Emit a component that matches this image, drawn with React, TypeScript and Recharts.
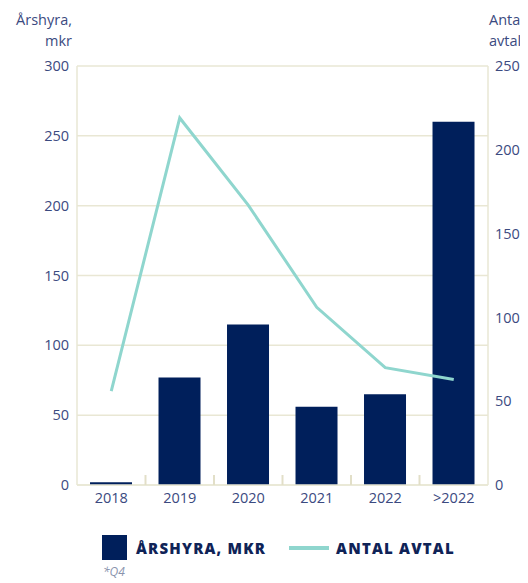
import React from "react"
import { ComposedChart, Bar, Line, XAxis, YAxis, CartesianGrid } from "recharts"

const categories = ["2018", "2019", "2020", "2021", "2022", ">2022"]
const arshyra = [2, 77, 115, 56, 65, 260]
const antalAvtal = [56, 219, 167, 106, 70, 63]
const leftTicks = [0, 50, 100, 150, 200, 250, 300]
const rightTicks = [0, 50, 100, 150, 200, 250]

const NAVY = "#001f5b"
const TEAL = "#8fd6ce"
const GRID = "#e9e7d4"
const TICK = "#e2dfc8"
const TEXT = "#3b4a80"
const FONT = "'Open Sans', Lato, sans-serif"
const TICK_MARGIN = 8
const CHART_W = 520
const LEFT_W = 69
const RIGHT_W = 40
const PLOT_W = CHART_W - LEFT_W - RIGHT_W

// category label plus a short tick at the left edge of the band
function renderYearTick(props: any) {
  const { x, y, payload } = props
  const idx = categories.indexOf(String(payload.value))
  const half = PLOT_W / categories.length / 2
  const axisY = Number(y) - TICK_MARGIN
  const bx = Number(x) - half
  return (
    <g>
      {idx > 0 ? (
        <path d={`M${bx},${axisY}L${bx},${axisY - 10}`} stroke={TICK} strokeWidth={2} fill="none" />
      ) : null}
      <text x={x} y={y} dy="0.71em" textAnchor="middle" fontSize={14.5} fill={TEXT} fontFamily={FONT}>
        {payload.value}
      </text>
    </g>
  )
}

const data = categories.map((c, i) => ({ year: c, arshyra: arshyra[i], antal: antalAvtal[i] }))

export default function App() {
  const tickStyle = { fontSize: 14.5, fill: TEXT, fontFamily: FONT }
  return (
    <div style={{ position: "relative", width: CHART_W, height: 575, fontFamily: FONT, overflow: "hidden" }}>
      <div style={{ position: "absolute", right: 456, top: 1, textAlign: "right", color: TEXT, fontSize: 14.5, lineHeight: "21px" }}>
        Årshyra,<br />mkr
      </div>
      <div style={{ position: "absolute", left: 481, top: 1, color: TEXT, fontSize: 14.5, lineHeight: "21px", whiteSpace: "nowrap" }}>
        Antal<br />avtal
      </div>
      <ComposedChart
        width={CHART_W}
        height={520}
        data={data}
        margin={{ top: 58, right: 0, left: 0, bottom: 13 }}
        barCategoryGap="19%"
      >
        <CartesianGrid stroke={GRID} strokeWidth={1.5} vertical={false} yAxisId="left" />
        <XAxis
          dataKey="year"
          tick={renderYearTick}
          tickLine={false}
          tickSize={0}
          tickMargin={TICK_MARGIN}
          axisLine={{ stroke: GRID, strokeWidth: 1.5 }}
          height={30}
        />
        <YAxis
          yAxisId="left"
          domain={[0, 300]}
          ticks={leftTicks}
          tick={tickStyle}
          tickLine={false}
          tickSize={0}
          tickMargin={8}
          axisLine={{ stroke: GRID, strokeWidth: 1.5 }}
          width={LEFT_W}
        />
        <YAxis
          yAxisId="right"
          orientation="right"
          domain={[0, 250]}
          ticks={rightTicks}
          tick={{ ...tickStyle, textAnchor: "start" }}
          tickLine={false}
          tickSize={0}
          tickMargin={7}
          axisLine={{ stroke: GRID, strokeWidth: 1.5 }}
          width={RIGHT_W}
        />
        <Bar yAxisId="left" dataKey="arshyra" fill={NAVY} isAnimationActive={false} />
        <Line
          yAxisId="right"
          dataKey="antal"
          stroke={TEAL}
          strokeWidth={3}
          dot={false}
          activeDot={false}
          type="linear"
          isAnimationActive={false}
        />
      </ComposedChart>
      <div style={{ position: "absolute", left: 94, top: 527, display: "flex", alignItems: "center" }}>
        <div style={{ width: 25, height: 25, background: NAVY }} />
        <span style={{ marginLeft: 9, color: "#0f2357", fontWeight: 800, fontSize: 15, letterSpacing: 1.2 }}>ÅRSHYRA, MKR</span>
        <div style={{ marginLeft: 23, width: 40, height: 4, background: TEAL }} />
        <span style={{ marginLeft: 7, color: "#0f2357", fontWeight: 800, fontSize: 15, letterSpacing: 1.2 }}>ANTAL AVTAL</span>
      </div>
      <div style={{ position: "absolute", left: 95, top: 555, color: "#8a93ad", fontSize: 12, fontStyle: "italic" }}>*Q4</div>
    </div>
  )
}
